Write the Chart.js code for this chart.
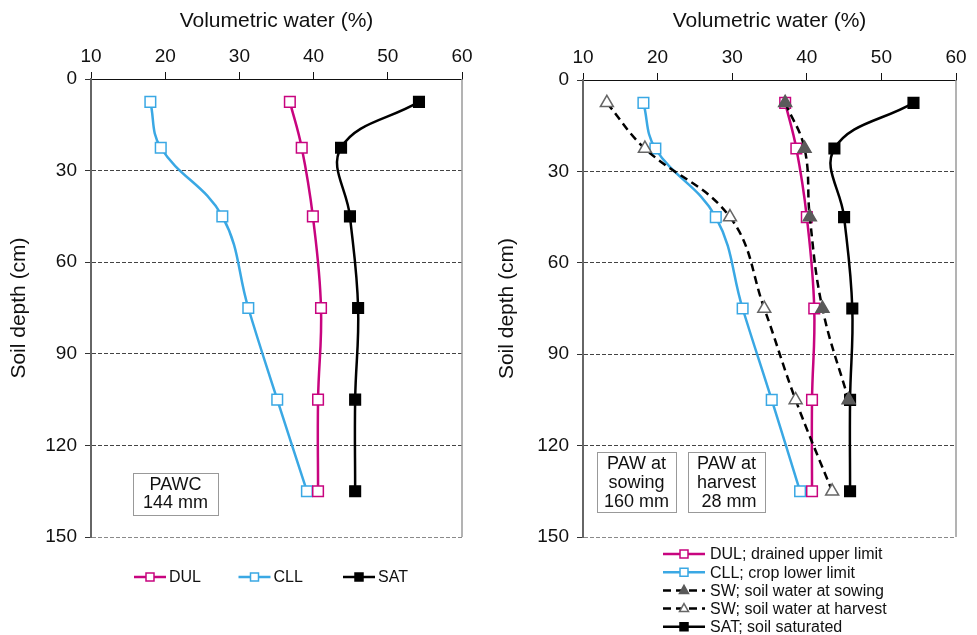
<!DOCTYPE html>
<html>
<head>
<meta charset="utf-8">
<script src="https://cdn.jsdelivr.net/npm/chart.js@4/dist/chart.umd.min.js"></script>
<style>
  html,body{margin:0;padding:0;background:#fff;}
  #wrap{position:relative;width:977px;height:635px;}
  #wrap canvas{position:absolute;top:0;}
</style>
</head>
<body>
<div id="wrap">
  <canvas id="leftChart" width="488" height="635" style="left:0"></canvas>
  <canvas id="rightChart" width="489" height="635" style="left:488px"></canvas>
</div>
<script>
// soil depth of each sample (cm) and the axis ticks
const depths=[7.5,22.5,45,75,105,135];
const depthTicks=[0,30,60,90,120,150];
const waterTicks=[10,20,30,40,50,60];

// left panel, volumetric water (%)
const dulLeft=[36.8,38.4,39.9,41.0,40.6,40.6];
const cllLeft=[18.0,19.4,27.7,31.2,35.1,39.1];
const satLeft=[54.2,43.7,44.9,46.0,45.6,45.6];

// right panel, volumetric water (%)
const dulRight=[37.1,38.6,40.0,41.0,40.7,40.7];
const cllRight=[18.1,19.7,27.8,31.4,35.3,39.1];
const swSowing=[37.1,39.7,40.4,42.1,45.6];
const swHarvest=[13.2,18.3,29.7,34.3,38.5,43.4];
const satRight=[54.3,43.7,45.0,46.1,45.8,45.8];

const leftNames=["DUL","CLL","SAT"];
const rightNames=["DUL; drained upper limit","CLL; crop lower limit","SW; soil water at sowing","SW; soil water at harvest","SAT; soil saturated"];

Chart.defaults.font.family='"Liberation Sans", Arial, sans-serif';
Chart.defaults.color="#111";

const MAGENTA="#c8047f";
const BLUE="#3aa8e4";

function pts(values){
    return values.map((v,i)=>({x:v,y:depths[i]}));
}

function series(label,values,color,style,extra){
    return Object.assign({
        label:label,
        data:pts(values),
        showLine:true,
        borderColor:color,
        borderWidth:2.5,
        tension:0.4,
        pointStyle:style,
        pointRadius:7.5,
        pointHoverRadius:7.5,
        pointBorderWidth:1.5,
        pointBorderColor:color,
        pointBackgroundColor:"#fff",
    },extra||{});
}

// right frame line, text boxes and hand drawn legend
const extras={
    id:"extras",
    afterDraw(chart,args,opts){
        const ctx=chart.ctx, a=chart.chartArea;
        ctx.save();
        ctx.strokeStyle="#9a9a9a";
        ctx.lineWidth=1.5;
        ctx.beginPath();
        ctx.moveTo(a.right,a.top);
        ctx.lineTo(a.right,a.bottom);
        ctx.stroke();

        // boxes
        ctx.font='18px "Liberation Sans", Arial, sans-serif';
        ctx.textAlign="center";
        ctx.textBaseline="middle";
        opts.notes.forEach(n=>{
            ctx.fillStyle="#fff";
            ctx.fillRect(n.x,n.y,n.w,n.h);
            ctx.strokeStyle="#999";
            ctx.lineWidth=1;
            ctx.strokeRect(n.x+0.5,n.y+0.5,n.w,n.h);
            ctx.fillStyle="#111";
            n.lines.forEach((t,i)=>ctx.fillText(t,n.x+n.w/2,n.y+n.first+i*n.lh));
        });

        // legend
        const lg=opts.legend;
        ctx.font='16px "Liberation Sans", Arial, sans-serif';
        ctx.textAlign="left";
        chart.data.datasets.forEach((ds,i)=>{
            const x=lg.x+i*lg.dx, y=lg.y+i*lg.dy;
            ctx.strokeStyle=ds.borderColor;
            ctx.lineWidth=ds.borderWidth;
            ctx.setLineDash(ds.borderDash||[]);
            ctx.beginPath();
            ctx.moveTo(x,y);
            ctx.lineTo(x+lg.len,y);
            ctx.stroke();
            ctx.setLineDash([]);
            const cx=x+lg.len/2, r=4.5;
            ctx.fillStyle=ds.pointBackgroundColor;
            ctx.strokeStyle=ds.pointBorderColor;
            ctx.lineWidth=1.5;
            ctx.beginPath();
            if(ds.pointStyle==="triangle"){
                ctx.moveTo(cx,y-r-0.5);
                ctx.lineTo(cx+r,y+r-1.5);
                ctx.lineTo(cx-r,y+r-1.5);
                ctx.closePath();
            }else{
                ctx.rect(cx-r+0.5,y-r+0.5,2*r-1,2*r-1);
            }
            ctx.fill();
            ctx.stroke();
            ctx.fillStyle="#111";
            ctx.fillText(lg.names[i],x+lg.len+lg.gap,y+1);
        });
        ctx.restore();
    },
};

function scales(areaLeft,areaTop){
    return {
        x:{
            type:"linear",
            position:"top",
            min:10,
            max:60,
            afterBuildTicks:s=>{s.ticks=waterTicks.map(v=>({value:v}));},
            afterFit:s=>{s.height=areaTop;},
            ticks:{font:{size:19},color:"#111",padding:4},
            grid:{drawOnChartArea:false,drawTicks:true,tickLength:7,color:"#111"},
            border:{color:"#111",width:1},
            title:{display:true,text:"Volumetric water (%)",font:{size:21},color:"#111",padding:{top:9,bottom:0}},
        },
        y:{
            type:"linear",
            reverse:true,
            min:0,
            max:150,
            afterBuildTicks:s=>{s.ticks=depthTicks.map(v=>({value:v}));},
            afterFit:s=>{s.width=areaLeft;},
            ticks:{font:{size:19},color:"#111",padding:8},
            grid:{
                drawTicks:true,
                tickLength:6,
                tickColor:"#333",
                lineWidth:1,
                color:c=>{
                    const v=c.tick?c.tick.value:null;
                    if(v===0) return "rgba(0,0,0,0)";
                    if(v===150) return "#8a8a8a";
                    return "#444";
                },
            },
            border:{color:"#666",width:2,dash:[4,2]},
            title:{display:true,text:"Soil depth (cm)",font:{size:21},color:"#111",padding:{top:7,bottom:0}},
        },
    };
}

new Chart(document.getElementById("leftChart"),{
    type:"scatter",
    data:{
        datasets:[
            series(leftNames[0],dulLeft,MAGENTA,"rect",{order:1}),
            series(leftNames[1],cllLeft,BLUE,"rect",{order:2}),
            series(leftNames[2],satLeft,"#000","rect",{order:3,pointBackgroundColor:"#000"}),
        ],
    },
    options:{
        responsive:false,
        animation:false,
        layout:{padding:{left:0,top:0,right:26,bottom:98}},
        scales:scales(91,79),
        plugins:{
            legend:{display:false},
            tooltip:{enabled:false},
            extras:{
                notes:[{x:133,y:473,w:85,h:42,first:12,lh:18,lines:["PAWC","144 mm"]}],
                legend:{x:134,y:577,dx:104.5,dy:0,len:32,gap:3,names:leftNames},
            },
        },
    },
    plugins:[extras],
});

new Chart(document.getElementById("rightChart"),{
    type:"scatter",
    data:{
        datasets:[
            series(rightNames[0],dulRight,MAGENTA,"rect",{order:2}),
            series(rightNames[1],cllRight,BLUE,"rect",{order:3}),
            series(rightNames[2],swSowing,"#000","triangle",{order:0,borderWidth:2.5,borderDash:[8,5],pointBackgroundColor:"#5a5a5a",pointBorderColor:"#5a5a5a"}),
            series(rightNames[3],swHarvest,"#000","triangle",{order:1,borderWidth:2.5,borderDash:[8,5],pointBorderColor:"#666"}),
            series(rightNames[4],satRight,"#000","rect",{order:4,pointBackgroundColor:"#000"}),
        ],
    },
    options:{
        responsive:false,
        animation:false,
        layout:{padding:{left:0,top:0,right:21,bottom:98}},
        scales:scales(95,80),
        plugins:{
            legend:{display:false},
            tooltip:{enabled:false},
            extras:{
                notes:[
                    {x:109,y:452,w:79,h:60,first:12,lh:19,lines:["PAW at","sowing","160 mm"]},
                    {x:200,y:452,w:77,h:60,first:12,lh:19,lines:["PAW at","harvest"," 28 mm"]},
                ],
                legend:{x:175,y:554,dx:0,dy:18.2,len:42,gap:5,names:rightNames},
            },
        },
    },
    plugins:[extras],
});
</script>
</body>
</html>
